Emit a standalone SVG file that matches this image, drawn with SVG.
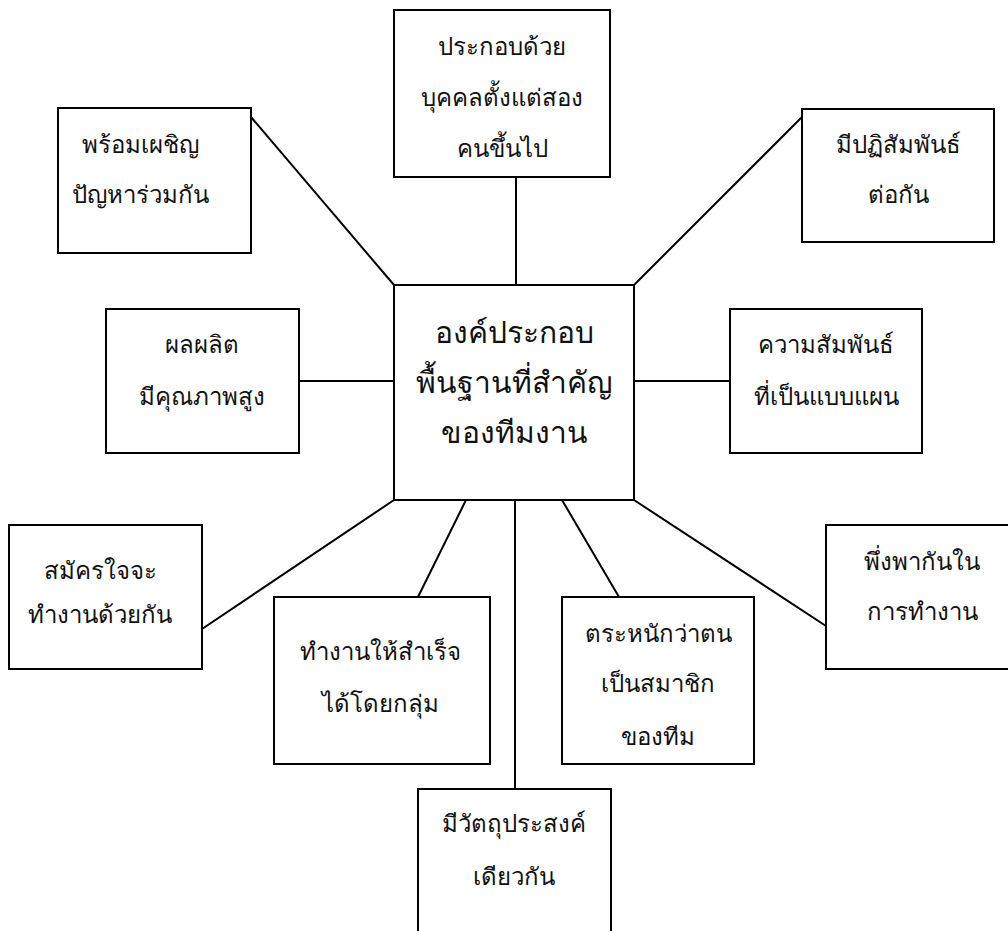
<svg xmlns="http://www.w3.org/2000/svg" width="1008" height="931" viewBox="0 0 1008 931">
<style>
.box{fill:#fff;stroke:#000;stroke-width:2}
.con line{stroke:#000;stroke-width:2}
text{font-family:"Noto Sans",sans-serif;font-size:24px;fill:#111;text-anchor:middle}
.big{font-size:30px}
</style>
<rect width="1008" height="931" fill="#fff"/>
<g id="connectors" class="con">
<line x1="516" y1="177" x2="516" y2="285"/>
<line x1="251" y1="117" x2="394" y2="285"/>
<line x1="802" y1="117" x2="634" y2="285"/>
<line x1="299" y1="381" x2="394" y2="381"/>
<line x1="634" y1="381" x2="730" y2="381"/>
<line x1="394" y1="500" x2="202" y2="629"/>
<line x1="466" y1="500" x2="418" y2="597"/>
<line x1="515" y1="500" x2="515" y2="789"/>
<line x1="562" y1="500" x2="619" y2="597"/>
<line x1="634" y1="500" x2="826" y2="626"/>
</g>
<g id="center">
<rect class="box" x="394" y="285" width="240" height="215"/>
<text class="big" x="514" y="343">องค์ประกอบ</text>
<text class="big" x="514" y="393">พื้นฐานที่สำคัญ</text>
<text class="big" x="514" y="443">ของทีมงาน</text>
</g>
<g id="n-top">
<rect class="box" x="394" y="10" width="216" height="167"/>
<text x="502" y="55">ประกอบด้วย</text>
<text x="502" y="106">บุคคลตั้งแต่สอง</text>
<text x="502" y="157">คนขึ้นไป</text>
</g>
<g id="n-topleft">
<rect class="box" x="58" y="108" width="193" height="145"/>
<text x="140" y="153">พร้อมเผชิญ</text>
<text x="140" y="203">ปัญหาร่วมกัน</text>
</g>
<g id="n-topright">
<rect class="box" x="802" y="109" width="192" height="133"/>
<text x="898" y="153">มีปฏิสัมพันธ์</text>
<text x="898" y="203">ต่อกัน</text>
</g>
<g id="n-left">
<rect class="box" x="106" y="309" width="193" height="144"/>
<text x="202" y="353">ผลผลิต</text>
<text x="202" y="405">มีคุณภาพสูง</text>
</g>
<g id="n-right">
<rect class="box" x="730" y="309" width="192" height="144"/>
<text x="826" y="353">ความสัมพันธ์</text>
<text x="826" y="405">ที่เป็นแบบแผน</text>
</g>
<g id="n-bottomleft">
<rect class="box" x="9" y="525" width="193" height="144"/>
<text x="100" y="579">สมัครใจจะ</text>
<text x="100" y="623">ทำงานด้วยกัน</text>
</g>
<g id="n-bottomleft2">
<rect class="box" x="274" y="597" width="216" height="167"/>
<text x="380" y="660">ทำงานให้สำเร็จ</text>
<text x="380" y="712">ได้โดยกลุ่ม</text>
</g>
<g id="n-bottom">
<rect class="box" x="418" y="789" width="193" height="150"/>
<text x="514" y="832">มีวัตถุประสงค์</text>
<text x="514" y="885">เดียวกัน</text>
</g>
<g id="n-bottomright2">
<rect class="box" x="562" y="597" width="192" height="167"/>
<text x="658" y="642">ตระหนักว่าตน</text>
<text x="658" y="692">เป็นสมาชิก</text>
<text x="658" y="745">ของทีม</text>
</g>
<g id="n-bottomright">
<rect class="box" x="826" y="525" width="193" height="144"/>
<text x="922" y="570">พึ่งพากันใน</text>
<text x="922" y="620">การทำงาน</text>
</g>
</svg>
